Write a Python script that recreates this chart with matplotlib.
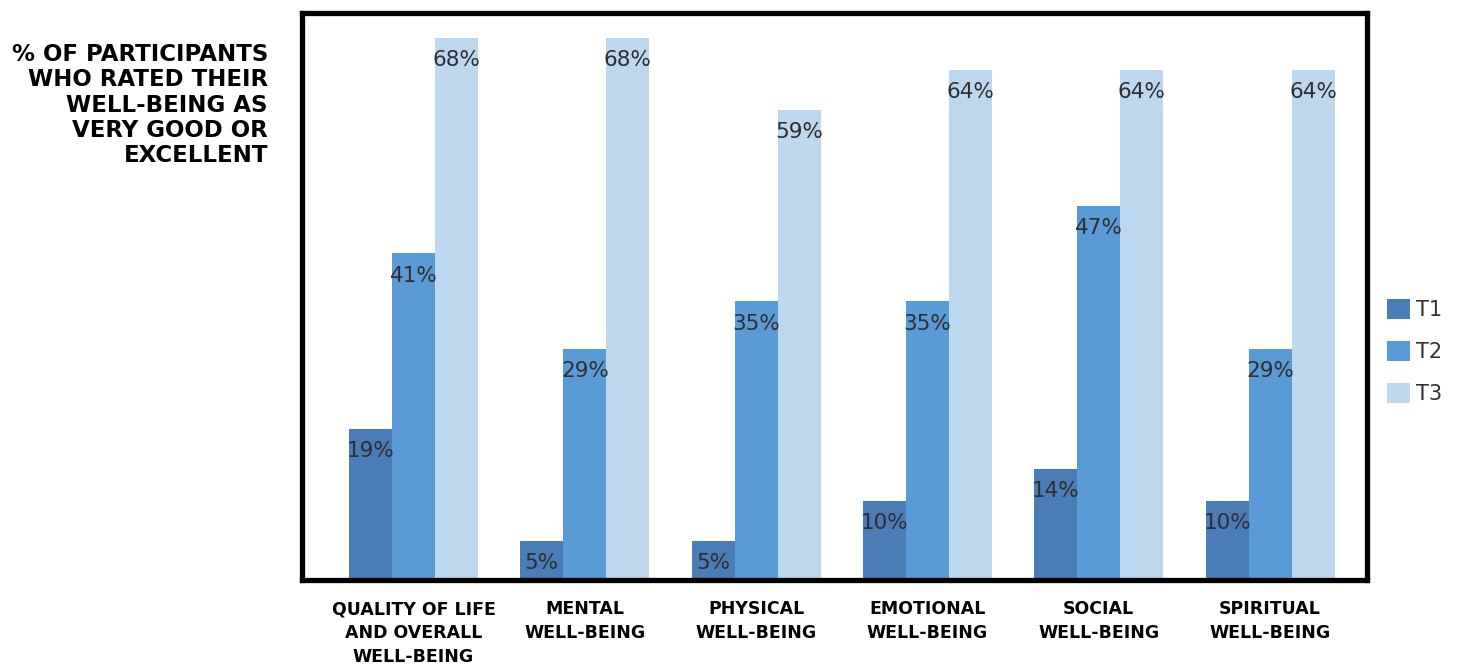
import matplotlib.pyplot as plt
import numpy as np

# data
categories = ['QUALITY OF LIFE\nAND OVERALL\nWELL-BEING', 'MENTAL\nWELL-BEING',
              'PHYSICAL\nWELL-BEING', 'EMOTIONAL\nWELL-BEING',
              'SOCIAL\nWELL-BEING', 'SPIRITUAL\nWELL-BEING']
series_names = ['T1', 'T2', 'T3']
t1 = [19, 5, 5, 10, 14, 10]
t2 = [41, 29, 35, 35, 47, 29]
t3 = [68, 68, 59, 64, 64, 64]
colors = ['#4a7db5', '#5b9bd5', '#bdd7ee']

fig = plt.figure(figsize=(14.62, 6.69), dpi=100)
ax = fig.add_axes([0.2069, 0.1323, 0.7278, 0.849])

x = np.arange(len(categories))
w = 0.251
for k, vals in enumerate([t1, t2, t3]):
    pos = x + (k - 1) * w
    ax.bar(pos, vals, width=w, color=colors[k], label=series_names[k], zorder=2)
    for px, v in zip(pos, vals):
        ax.text(px, v - 2.8, f'{v}%', ha='center', va='center',
                fontsize=15.5, color='#2e2e2e', zorder=3)

ax.set_xlim(-0.648, 5.563)
ax.set_ylim(0, 71.2)
ax.set_xticks([])
ax.set_yticks([])
for s in ax.spines.values():
    s.set_linewidth(3.8)
    s.set_color('black')

# category labels under the box
for i, c in enumerate(categories):
    ax.text(i, -0.035, c, transform=ax.get_xaxis_transform(), ha='center', va='top',
            fontsize=12.5, fontweight='bold', linespacing=1.42, color='black')

# left side label
fig.text(268 / 1462, 1 - 43 / 669,
         '% OF PARTICIPANTS\nWHO RATED THEIR\nWELL-BEING AS\nVERY GOOD OR\nEXCELLENT',
         ha='right', va='top', fontsize=16.5, fontweight='bold', linespacing=1.13,
         multialignment='right')

fig.legend(loc='upper left', bbox_to_anchor=(1368 / 1462, 1 - 280 / 669),
           frameon=False, fontsize=15, handlelength=1.1, handleheight=1.1,
           handletextpad=0.3, labelspacing=1.0, labelcolor='#333333')

fig.savefig('out.png', dpi=100)
